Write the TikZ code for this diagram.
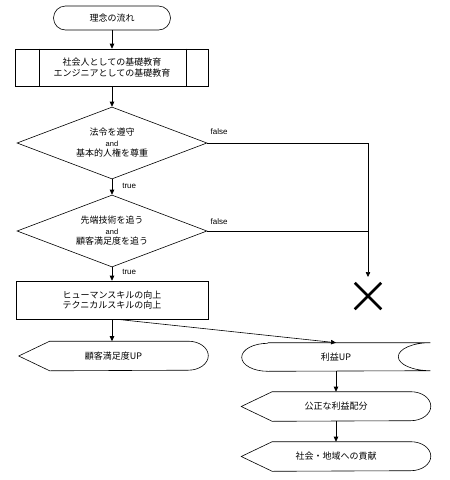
\documentclass[tikz,border=0pt]{standalone}
\usepackage{fontspec}
\setmainfont{Liberation Sans}
\newfontfamily\jpfont{Noto Sans CJK JP}
\usetikzlibrary{shapes.geometric,shapes.misc,arrows.meta}

\newcommand\andword{{\rmfamily\fontsize{7.5}{7}\selectfont and}}
\newcommand\dispoutline[1]{\draw (#1.west) -- ([xshift=31pt]#1.north west) -- ([xshift=-20pt]#1.north east)
    arc[start angle=90,end angle=-90,x radius=20pt,y radius=14.5pt] -- ([xshift=31pt]#1.south west) -- cycle;}
\newcommand\storedoutline[1]{\draw ([xshift=26pt]#1.north west) -- (#1.north east)
    arc[start angle=90,end angle=270,x radius=32pt,y radius=14pt] -- ([xshift=26pt]#1.south west)
    arc[start angle=-90,end angle=-270,x radius=26pt,y radius=14pt];}

\begin{document}
\begin{tikzpicture}[x=1pt,y=-1pt,line width=0.6pt,
    >={Triangle[length=5pt,width=4.5pt]},
    every node/.style={font=\jpfont\fontsize{9}{10.5}\selectfont,align=center,inner sep=0pt},
    term/.style={draw,rounded corners=12pt,minimum width=117pt,minimum height=24pt},
    proc/.style={draw,minimum width=193pt,minimum height=37pt},
    decide/.style={draw,diamond,aspect=2.6,minimum width=190pt,minimum height=72pt},
    disp/.style={minimum width=189pt,minimum height=29pt},
    lbl/.style={font=\rmfamily\fontsize{8}{9}\selectfont,anchor=west}]

    \useasboundingbox (0,0) rectangle (450,480);

    \node[term] (start) at (112,18) {理念の流れ};
    \node[proc] (edu) at (112,67.5) {社会人としての基礎教育\\エンジニアとしての基礎教育};
    \draw ([xshift=24pt]edu.north west) -- ([xshift=24pt]edu.south west)
          ([xshift=-23pt]edu.north east) -- ([xshift=-23pt]edu.south east);
    \node[decide] (law) at (112,143) {法令を遵守\\\andword\\基本的人権を尊重};
    \node[decide] (tech) at (112,231) {先端技術を追う\\\andword\\顧客満足度を追う};
    \node[draw,minimum width=192pt,minimum height=38pt] (skill) at (112,300) {ヒューマンスキルの向上\\テクニカルスキルの向上};
    \node[disp] (cs) at (113.5,356) {顧客満足度UP};
    \node[minimum width=188pt,minimum height=28pt] (profit) at (336,357) {利益UP};
    \node[disp] (fair) at (336,406.5) {公正な利益配分};
    \node[disp] (social) at (336,456.5) {社会・地域への貢献};
    \dispoutline{cs}
    \dispoutline{fair}
    \dispoutline{social}
    \storedoutline{profit}
    \node[cross out,draw,line width=2.5pt,minimum width=24pt,minimum height=24pt] (ng) at (368,296) {};
    \coordinate (stop) at (368,277);

    \draw[->] (start.south) -- (edu.north);
    \draw[->] (edu.south) -- (law.north);
    \draw[->] (law.south) -- (tech.north);
    \draw[->] (tech.south) -- (skill.north);
    \draw[->] (law.east) -| (stop);
    \draw (tech.east) -- (tech.east -| stop);
    \draw[->] (skill.south) -- (skill.south |- cs.north);
    \draw[->] ([xshift=5pt]skill.south) -- (profit.north);
    \draw[->] (profit.south) -- (fair.north);
    \draw[->] (fair.south) -- (social.north);

    \node[lbl] at ([xshift=10pt,yshift=-7pt]law.south) {true};
    \node[lbl] at ([xshift=10pt,yshift=-5pt]tech.south) {true};
    \node[lbl] at ([xshift=3pt,yshift=11pt]law.east) {false};
    \node[lbl] at ([xshift=3pt,yshift=9pt]tech.east) {false};
\end{tikzpicture}
\end{document}
